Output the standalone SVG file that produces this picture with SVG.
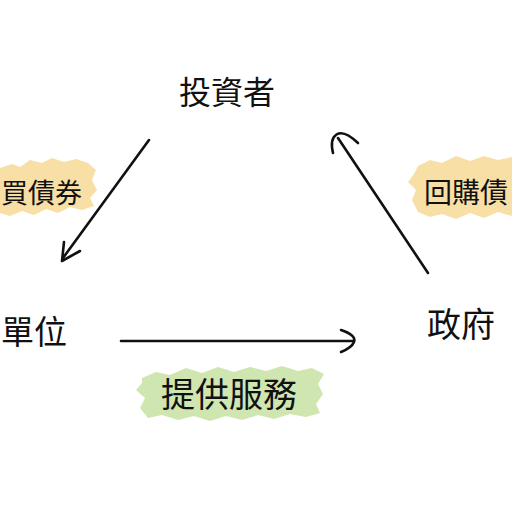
<svg xmlns="http://www.w3.org/2000/svg" width="512" height="512" viewBox="0 0 512 512">
<style>
.t{font-family:"Noto Sans CJK TC","Noto Sans CJK SC",sans-serif;fill:#111;font-weight:400}
.c{fill:none;stroke:#111;stroke-width:2.6;stroke-linecap:round;stroke-linejoin:round}
.o{fill:#f8dfa6}
.g{fill:#cfe6b1}
</style>
<rect width="512" height="512" fill="#fff"/>
<g id="highlights">
<path class="o" d="M0,168 L12,164 L20,167 L30,160 L42,163 L52,158 L64,162 L76,159 L88,163 L96,170 L92,180 L97,190 L90,198 L94,206 L82,210 L70,207 L58,213 L46,209 L34,215 L22,211 L10,216 L0,213 Z"/>
<path class="o" d="M418,166 L430,160 L442,163 L456,156 L470,161 L484,156 L498,160 L512,157 L512,216 L498,212 L484,218 L470,213 L456,219 L442,214 L430,217 L418,212 L412,200 L416,190 L408,182 L414,174 Z"/>
<path class="g" d="M142,378 L156,372 L170,375 L186,368 L202,373 L218,367 L234,372 L250,367 L266,371 L282,366 L298,371 L312,368 L324,374 L318,384 L323,394 L316,404 L320,413 L306,417 L290,414 L274,419 L258,415 L242,420 L226,416 L210,421 L194,416 L178,420 L162,415 L148,418 L140,408 L145,398 L136,390 L142,383 Z"/>
</g>
<g id="connectors">
<path class="c" d="M149,140 L63,258"/>
<path class="c" d="M80,251 L62,261 L64,242"/>
<path class="c" d="M121,341 L354,341"/>
<path class="c" d="M341,330 C350,333 356,337 354,342 C352,347 346,350 341,352"/>
<path class="c" d="M428,273 L338,138"/>
<path class="c" d="M333,153 C329,136 338,124 358,143"/>
</g>
<g id="investor"><text class="t" x="227" y="104" font-size="32" text-anchor="middle">投資者</text></g>
<g id="issuer"><text class="t" x="1" y="344" font-size="33">單位</text></g>
<g id="government"><text class="t" x="427" y="337" font-size="34">政府</text></g>
<g id="label-buy"><text class="t" x="1" y="203" font-size="27">買債券</text></g>
<g id="label-buyback"><text class="t" x="424" y="203" font-size="28">回購債</text></g>
<g id="label-service"><text class="t" x="229" y="407" font-size="34" text-anchor="middle">提供服務</text></g>
</svg>
